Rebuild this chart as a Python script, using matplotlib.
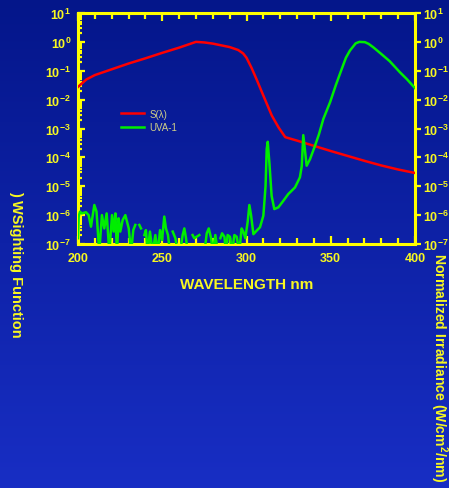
import numpy as np
import matplotlib
matplotlib.use("Agg")
import matplotlib.pyplot as plt
from matplotlib.ticker import LogLocator, FixedLocator, NullFormatter, NullLocator

plt.rcParams['font.family'] = ['Liberation Sans', 'DejaVu Sans']
plt.rcParams['mathtext.fontset'] = 'custom'
plt.rcParams['mathtext.rm'] = 'Liberation Sans:bold'
plt.rcParams['mathtext.bf'] = 'Liberation Sans:bold'
plt.rcParams['mathtext.default'] = 'bf'

# S(lambda) weighting function: wavelength (nm) and log10 value
s_wl = [200, 205, 210, 220, 230, 240, 250, 260, 270, 275, 280, 290, 295, 298,
        300, 303, 306, 310, 315, 319, 323, 330, 340, 350, 360, 370, 380, 390, 400]
s_log = [-1.56, -1.30, -1.15, -0.95, -0.75, -0.57, -0.38, -0.20, 0.00, -0.02,
         -0.06, -0.18, -0.28, -0.40, -0.55, -0.90, -1.30, -1.86, -2.55, -2.96,
         -3.30, -3.42, -3.60, -3.78, -3.95, -4.12, -4.28, -4.42, -4.54]

# UVA-1 normalized irradiance: wavelength (nm) and log10 value (nan = no data)
uva_wl = [200.0, 200.4, 201.2, 202.2, 204.7, 206.3, 207.7, 209.7, 211.0, 212.6,
          214.2, 215.6, 217.0, 218.6, 220.2, 221.2, 222.2, 223.1, 224.1, 225.1,
          226.5, 228.1, 230.1, 231.5, 232.8, 234.0, 235.2, 236.4, 237.4, 238.4,
          239.4, 240.3, 241.3, 242.7, 244.3, 245.9, 247.3, 248.7, 249.9, 251.2,
          252.2, 253.4, 254.6, 255.4, 256.2, 257.8, 259.2, 260.6, 262.1, 263.1,
          264.1, 265.1, 266.5, 268.0, 269.0, 270.4, 272.0, 273.5, 275.0, 276.4,
          277.6, 279.0, 280.0, 281.5, 283.0, 283.8, 284.5, 285.5, 286.9, 287.8,
          288.8, 290.2, 291.4, 292.8, 294.2, 295.7, 297.1, 298.1, 299.3, 300.7,
          301.7, 302.7, 304.1, 306.0, 308.0, 310.0, 311.3, 312.0, 312.6, 313.6,
          314.9, 316.5, 318.9, 321.9, 324.8, 328.8, 331.7, 332.8, 333.7, 335.7,
          337.7, 340.7, 343.0, 345.6, 349.6, 353.0, 356.5, 359.0, 361.4, 364.8,
          367.0, 370.3, 372.5, 375.3, 380.0, 385.0, 391.0, 395.0, 400.0]
uva_log = [-6.80, -6.05, -5.88, -5.94, -5.90, -6.00, -6.40, -5.65, -5.88, -7.30,
           -6.00, -6.46, -5.94, -7.30, -6.00, -6.57, -5.94, -7.30, -6.11, -6.57,
           -6.17, -6.00, -6.46, -7.30, -6.52, -6.34, np.nan, -6.34, -6.46, np.nan,
           -6.69, -6.52, -7.30, -6.57, -7.30, -6.69, -7.30, -6.52, -6.86, -6.05,
           -6.46, -6.69, -7.30, np.nan, -6.57, -6.80, -7.30, -7.30, -6.69, -6.46,
           -6.80, -7.30, np.nan, -6.69, -6.80, -6.75, -6.69, np.nan, -7.30, -6.63,
           -6.46, -6.80, -7.30, -6.69, -7.30, np.nan, -6.80, -6.63, -6.75, -7.30,
           -6.69, -6.75, -7.30, -6.69, -6.75, -7.30, -6.46, -6.57, -6.80, -6.23,
           -5.65, -6.00, -6.66, -6.54, -6.42, -6.02, -5.00, -3.71, -3.46, -4.20,
           -5.33, -5.79, -5.73, -5.50, -5.27, -5.04, -4.69, -4.30, -3.23, -4.29,
           -4.06, -3.59, -3.20, -2.67, -2.09, -1.50, -0.94, -0.55, -0.30, -0.05,
           0.00, -0.01, -0.07, -0.19, -0.42, -0.67, -1.05, -1.28, -1.60]

x_ticks = [200, 250, 300, 350, 400]
y_exps = [-7, -6, -5, -4, -3, -2, -1, 0, 1]
y_tick_labels = [r"$10^{%d}$" % e for e in y_exps]

W, H = 449, 489
fig = plt.figure(figsize=(W / 100, H / 100), dpi=100)

# vertical blue gradient background
bg = fig.add_axes([0, 0, 1, 1], zorder=-10)
top_c = np.array([4, 22, 138]) / 255
bot_c = np.array([24, 46, 196]) / 255
t = np.linspace(0, 1, 256)[:, None]
grad = top_c[None, :] * (1 - t) + bot_c[None, :] * t
bg.imshow(grad[:, None, :].repeat(2, axis=1), aspect='auto', extent=[0, 1, 0, 1])
bg.axis('off')

yellow = '#ffff00'
txt_yellow = '#f8f820'

ax = fig.add_axes([78 / W, 1 - 245 / H, (415 - 78) / W, (245 - 14) / H])
ax.patch.set_alpha(0)
ax.set_yscale('log')
ax.set_xlim(200, 400)
ax.set_ylim(1e-7, 1e1)

s_vals = 10 ** np.array(s_log)
uva_vals = 10 ** np.array(uva_log)
ax.plot(s_wl, s_vals, color='#ff0000', lw=1.8, label='S(λ)', zorder=3)
ax.plot(uva_wl, uva_vals, color='#00ee00', lw=1.8, label='UVA-1', zorder=3)

for sp in ax.spines.values():
    sp.set_color(yellow)
    sp.set_linewidth(2.2)

ax.xaxis.set_major_locator(FixedLocator(x_ticks))
ax.xaxis.set_minor_locator(FixedLocator(list(range(200, 401, 10))))
ax.set_xticklabels([str(v) for v in x_ticks])
ax.tick_params(axis='x', which='both', direction='in', top=True, bottom=True,
               colors=yellow, width=1.6)
ax.tick_params(axis='x', which='major', length=6, pad=6,
               labelsize=9, labelcolor=txt_yellow)
ax.tick_params(axis='x', which='minor', length=4)
for lab in ax.get_xticklabels():
    lab.set_fontweight('bold')

ax.yaxis.set_major_locator(FixedLocator([10.0 ** e for e in y_exps]))
ax.set_yticklabels(y_tick_labels)
ax.yaxis.set_minor_locator(LogLocator(base=10, subs=np.arange(2, 10), numticks=20))
ax.yaxis.set_minor_formatter(NullFormatter())
ax.tick_params(axis='y', which='both', direction='in', left=True, right=False,
               colors=yellow, width=1.6)
ax.tick_params(axis='y', which='major', length=5, pad=5,
               labelsize=9, labelcolor=txt_yellow)
ax.tick_params(axis='y', which='minor', length=3)

ax2 = ax.twinx()
ax2.set_yscale('log')
ax2.set_ylim(1e-7, 1e1)
ax2.yaxis.set_major_locator(FixedLocator([10.0 ** e for e in y_exps]))
ax2.yaxis.set_minor_locator(NullLocator())
ax2.set_yticklabels(y_tick_labels)
ax2.tick_params(axis='y', which='major', direction='out', length=4, width=1.6,
                pad=1.5, colors=yellow, labelsize=9, labelcolor=txt_yellow)
for sp in ax2.spines.values():
    sp.set_visible(False)

ax.set_xlabel('WAVELENGTH nm', fontsize=11, fontweight='bold', color=txt_yellow,
              labelpad=9)

leg = ax.legend(loc='upper left', bbox_to_anchor=(0.128, 0.585), frameon=False,
                fontsize=7, handlelength=2.4, handletextpad=0.5, labelspacing=0.35,
                borderpad=0, borderaxespad=0)
for txt in leg.get_texts():
    txt.set_color('#d0d088')

fig.text(16 / W, 1 - 264 / H, ') WSighting Function', rotation=-90,
         ha='center', va='center', fontsize=10.5, fontweight='bold', color=txt_yellow)
fig.text(439 / W, 1 - 253 / H, 'Normalized Irradiance (W/cm$^{2}$/nm)', rotation=-90,
         ha='center', va='top', fontsize=10.1, fontweight='bold', color=txt_yellow)

fig.savefig('out.png', dpi=100)
